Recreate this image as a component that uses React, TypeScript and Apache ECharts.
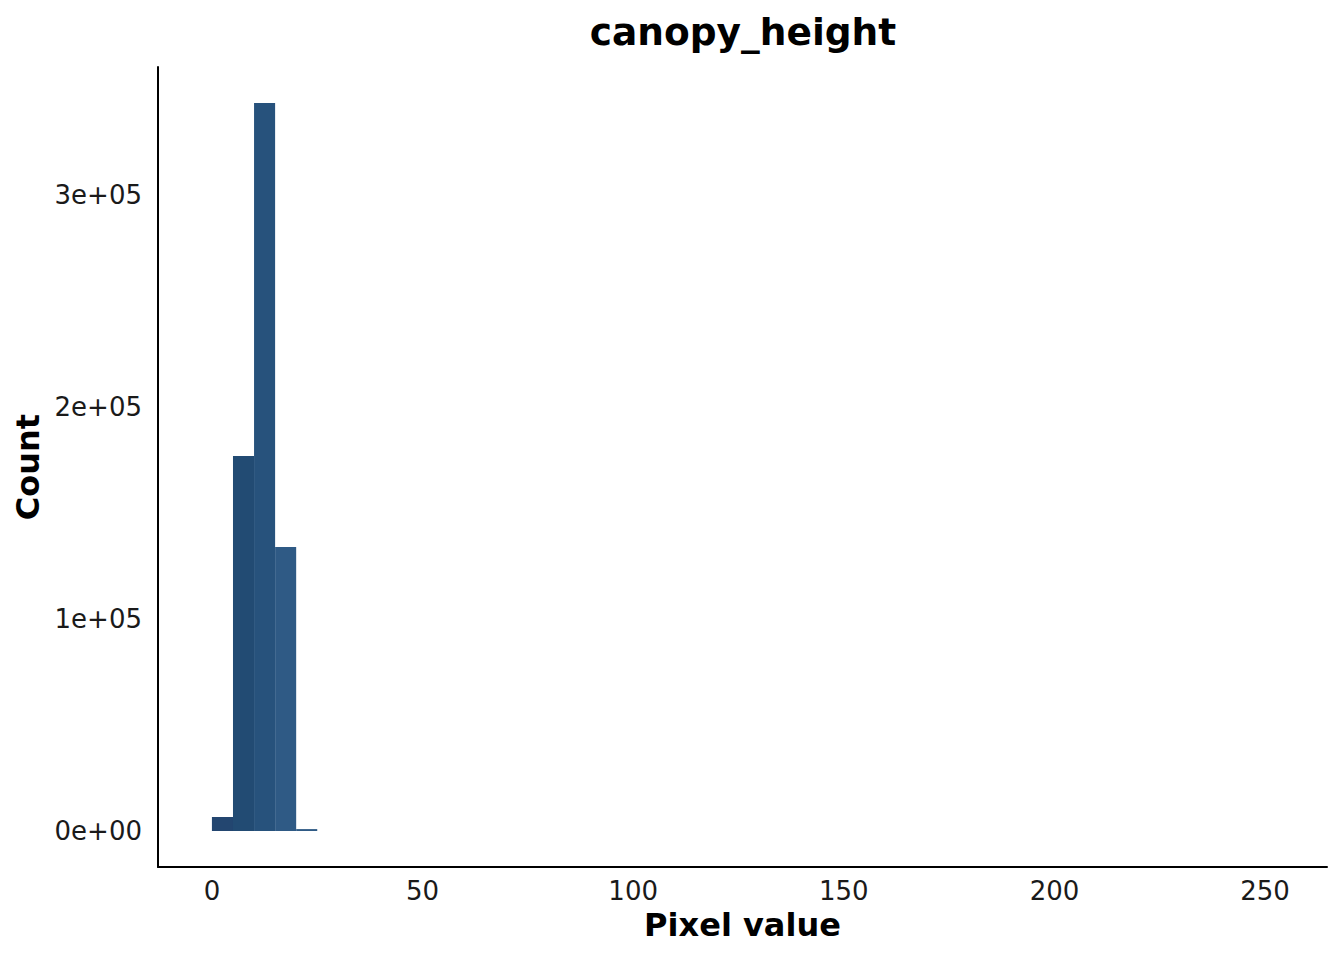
import React, { useEffect, useRef } from "react";
import * as echarts from "echarts";

const binStarts = [0, 5, 10, 15, 20];
const binWidth = 5;
const counts = [6600, 176900, 343400, 134000, 900];
const barColors = ["#234670", "#224b73", "#27527c", "#2f5a85", "#2f5a85"];
const xTicks = [0, 50, 100, 150, 200, 250];
const yTicks = [0, 100000, 200000, 300000];
const yTickLabels = ["0e+00", "1e+05", "2e+05", "3e+05"];

export default function App() {
  const ref = useRef<HTMLDivElement>(null);
  useEffect(() => {
    if (!ref.current) return;
    const chart = echarts.init(ref.current, undefined, { renderer: "svg" });
    const data = binStarts.map((s, i) => [s, s + binWidth, counts[i], i]);
    const font = "DejaVu Sans";
    chart.setOption({
      animation: false,
      title: {
        text: "canopy_height",
        left: 738,
        top: 8,
        textAlign: "center",
        textStyle: { fontFamily: font, fontWeight: "bold", fontSize: 37.5, color: "#000" },
      },
      grid: { left: 158, right: 17, top: 67, bottom: 93 },
      xAxis: {
        type: "value",
        min: -12.8,
        max: 264.7,
        name: "Pixel value",
        nameLocation: "middle",
        nameGap: 39,
        nameTextStyle: { fontFamily: font, fontWeight: "bold", fontSize: 32, color: "#000" },
        axisLine: { show: true, onZero: false, lineStyle: { color: "#000", width: 2 } },
        axisTick: { show: false },
        splitLine: { show: false },
        axisLabel: {
          fontFamily: font,
          fontSize: 26,
          color: "#1a1a1a",
          margin: 11,
          customValues: xTicks,
        },
      },
      yAxis: {
        type: "value",
        min: -16981,
        max: 360377,
        name: "Count",
        nameLocation: "middle",
        nameGap: 113,
        nameTextStyle: { fontFamily: font, fontWeight: "bold", fontSize: 32, color: "#000" },
        axisLine: { show: true, onZero: false, lineStyle: { color: "#000", width: 2 } },
        axisTick: { show: false },
        splitLine: { show: false },
        axisLabel: {
          fontFamily: font,
          fontSize: 26,
          color: "#1a1a1a",
          margin: 16,
          customValues: yTicks,
          formatter: (v: number) => {
            const i = yTicks.indexOf(v);
            return i >= 0 ? yTickLabels[i] : "";
          },
        },
      },
      series: [
        {
          type: "custom",
          data,
          encode: { x: [0, 1], y: 2 },
          renderItem: (params: any, api: any) => {
            const x0 = api.value(0);
            const x1 = api.value(1);
            const c = api.value(2);
            const idx = api.value(3);
            const p0 = api.coord([x0, 0]);
            const p1 = api.coord([x1, c]);
            return {
              type: "rect",
              shape: {
                x: p0[0],
                y: p1[1],
                width: p1[0] - p0[0],
                height: p0[1] - p1[1],
              },
              style: { fill: barColors[idx] },
            };
          },
        },
      ],
    });
    return () => chart.dispose();
  }, []);
  return <div ref={ref} style={{ width: 1344, height: 960, margin: -8 }} />;
}
